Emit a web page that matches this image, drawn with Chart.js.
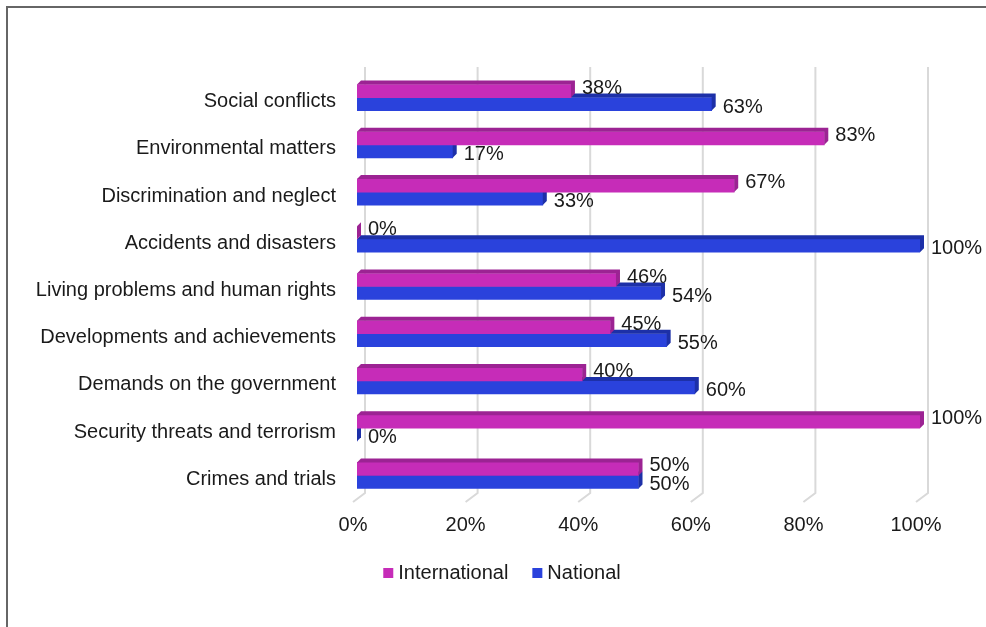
<!DOCTYPE html>
<html>
<head>
<meta charset="utf-8">
<script src="https://cdn.jsdelivr.net/npm/chart.js@4.4.0/dist/chart.umd.min.js"></script>
<style>
  html, body { margin: 0; padding: 0; background: #fff; overflow: hidden; }
  #wrap { position: relative; width: 986px; height: 627px; }
</style>
</head>
<body>
<div id="wrap"><canvas id="myChart"></canvas></div>
<script>
var categories = [
    'Social conflicts',
    'Environmental matters',
    'Discrimination and neglect',
    'Accidents and disasters',
    'Living problems and human rights',
    'Developments and achievements',
    'Demands on the government',
    'Security threats and terrorism',
    'Crimes and trials'
];
var international = [38, 83, 67, 0, 46, 45, 40, 100, 50];
var national = [63, 17, 33, 100, 54, 55, 60, 0, 50];
var xTicks = [0, 20, 40, 60, 80, 100];

var frontColors = ['#c62cb8', '#2a42dc'];
var depthColors = ['#9c2393', '#1d30a8'];
var depth = 4;
var textColor = '#1a1a1a';
var fontFamily = "'Liberation Sans', Arial, sans-serif";

// back wall grid: vertical line plus the slanted floor edge
var wallGrid = {
    id: 'wallGrid',
    beforeDatasetsDraw: function(chart) {
        var ctx = chart.ctx, area = chart.chartArea, x = chart.scales.x;
        ctx.save();
        ctx.strokeStyle = '#d9d9d9';
        ctx.lineWidth = 2;
        xTicks.forEach(function(v) {
            var px = x.getPixelForValue(v) + 8;
            ctx.beginPath();
            ctx.moveTo(px, area.top - 7);
            ctx.lineTo(px, area.bottom - 6);
            ctx.lineTo(px - 12, area.bottom + 3);
            ctx.stroke();
        });
        ctx.restore();
    }
};

// top and end faces so the bars look like blocks
var barFaces = {
    id: 'barFaces',
    afterDatasetDraw: function(chart, args) {
        var ctx = chart.ctx;
        ctx.save();
        ctx.fillStyle = depthColors[args.index];
        args.meta.data.forEach(function(bar) {
            var p = bar.getProps(['x', 'y', 'base', 'height'], true);
            var top = p.y - p.height / 2, bottom = p.y + p.height / 2;
            ctx.beginPath();
            ctx.moveTo(p.base, top);
            ctx.lineTo(p.base + depth, top - depth);
            ctx.lineTo(p.x + depth, top - depth);
            ctx.lineTo(p.x + depth, bottom - depth);
            ctx.lineTo(p.x, bottom);
            ctx.lineTo(p.x, top);
            ctx.closePath();
            ctx.fill();
        });
        ctx.restore();
    }
};

var valueLabels = {
    id: 'valueLabels',
    afterDatasetsDraw: function(chart) {
        var ctx = chart.ctx;
        ctx.save();
        ctx.font = '20px ' + fontFamily;
        ctx.fillStyle = textColor;
        ctx.textAlign = 'left';
        ctx.textBaseline = 'middle';
        chart.data.datasets.forEach(function(ds, i) {
            chart.getDatasetMeta(i).data.forEach(function(bar, j) {
                ctx.fillText(ds.data[j] + '%', bar.x + 11, bar.y + (i === 0 ? -3 : 3));
            });
        });
        ctx.restore();
    }
};

var legendAndFrame = {
    id: 'legendAndFrame',
    afterDraw: function(chart) {
        var ctx = chart.ctx;
        ctx.save();
        ctx.strokeStyle = '#666';
        ctx.lineWidth = 2;
        ctx.beginPath();
        ctx.moveTo(7, chart.height);
        ctx.lineTo(7, 7);
        ctx.lineTo(chart.width, 7);
        ctx.stroke();

        ctx.font = '20px ' + fontFamily;
        ctx.textBaseline = 'middle';
        ctx.textAlign = 'left';
        var box = 10, gap = 5, spacing = 24;
        var items = chart.data.datasets.map(function(ds, i) {
            return { text: ds.label, color: frontColors[i], w: ctx.measureText(ds.label).width };
        });
        var total = spacing * (items.length - 1);
        items.forEach(function(it) { total += box + gap + it.w; });
        var x = 502 - total / 2, y = 573;
        items.forEach(function(it) {
            ctx.fillStyle = it.color;
            ctx.fillRect(x, y - 5, box, box);
            ctx.fillStyle = textColor;
            ctx.fillText(it.text, x + box + gap, y);
            x += box + gap + it.w + spacing;
        });
        ctx.restore();
    }
};

var ctx = document.getElementById('myChart').getContext('2d');
var chart = new Chart(ctx, {
    type: 'bar',
    data: {
        labels: categories,
        datasets: [{
            label: 'International',
            data: international,
            backgroundColor: frontColors[0],
            barThickness: 13
        }, {
            label: 'National',
            data: national,
            backgroundColor: frontColors[1],
            barThickness: 13
        }]
    },
    options: {
        indexAxis: 'y',
        responsive: true,
        maintainAspectRatio: false,
        animation: false,
        devicePixelRatio: 1,
        layout: {
            padding: { top: 74, right: 66, bottom: 0, left: 0 }
        },
        plugins: {
            legend: { display: false },
            tooltip: { enabled: false }
        },
        scales: {
            x: {
                min: 0,
                max: 100,
                grid: { display: false, drawTicks: false },
                border: { display: false },
                ticks: {
                    stepSize: 20,
                    padding: 14,
                    labelOffset: -4,
                    color: textColor,
                    font: { family: fontFamily, size: 20 },
                    callback: function(v) { return v + '%'; }
                },
                afterFit: function(s) { s.height = 128; }
            },
            y: {
                grid: { display: false, drawTicks: false },
                border: { display: false },
                ticks: {
                    padding: 21,
                    labelOffset: 4,
                    color: textColor,
                    font: { family: fontFamily, size: 20 }
                },
                afterFit: function(s) { s.width = 357; }
            }
        }
    },
    plugins: [wallGrid, barFaces, valueLabels, legendAndFrame]
});
</script>
</body>
</html>
